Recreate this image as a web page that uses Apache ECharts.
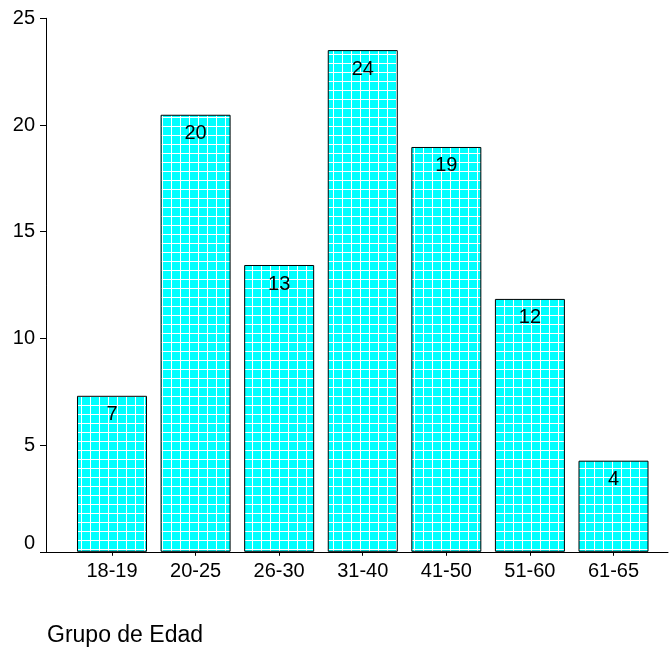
<!DOCTYPE html>
<html>
<head>
<meta charset="utf-8">
<script src="https://cdn.jsdelivr.net/npm/echarts@6/dist/echarts.min.js"></script>
<style>
html,body{margin:0;padding:0;background:#fff;}
#chart{width:669px;height:648px;}
</style>
</head>
<body>
<div id="chart"></div>
<script>
const categories = ['18-19', '20-25', '26-30', '31-40', '41-50', '51-60', '61-65'];
const values = [7.31, 20.48, 13.44, 23.51, 18.97, 11.85, 4.27];
const barLabels = [7, 20, 13, 24, 19, 12, 4];
const yTicks = [0, 5, 10, 15, 20, 25];
const xAxisTitle = 'Grupo de Edad';

const FONT = 'Liberation Sans, Arial, sans-serif';
const FS = 20;

// grid-pattern fill
const pc = document.createElement('canvas');
pc.width = 9; pc.height = 9;
const g = pc.getContext('2d');
g.fillStyle = '#00FFFF';
g.fillRect(0, 0, 9, 9);
g.fillStyle = '#ffffff';
g.fillRect(0, 0, 9, 1);
g.fillRect(0, 0, 1, 9);

const chart = echarts.init(document.getElementById('chart'), null, {renderer: 'canvas'});
chart.setOption({
  animation: false,
  backgroundColor: '#fff',
  title: {
    text: xAxisTitle,
    left: 42,
    top: 619,
    textStyle: {fontFamily: FONT, fontSize: 23, fontWeight: 'normal', color: '#000'}
  },
  grid: [
    {left: 70.2, right: 13.7, top: 18.3, bottom: 96.2, containLabel: false},
    {left: 41, right: 1, top: 18.3, bottom: 96.2, containLabel: false}
  ],
  xAxis: [
    {
      type: 'category',
      gridIndex: 0,
      data: categories,
      axisLine: {show: true, lineStyle: {color: '#000', width: 1}},
      axisTick: {show: true, alignWithLabel: true, length: 4, lineStyle: {color: '#000'}},
      axisLabel: {fontFamily: FONT, fontSize: FS, color: '#000', margin: 10},
      splitLine: {show: false}
    },
    {
      type: 'value',
      gridIndex: 1,
      min: 0, max: 1,
      axisLine: {show: true, lineStyle: {color: '#000', width: 1}},
      axisTick: {show: false},
      axisLabel: {show: false},
      splitLine: {show: false}
    }
  ],
  yAxis: [
    {
      type: 'value',
      gridIndex: 0,
      min: yTicks[0],
      max: yTicks[yTicks.length - 1],
      interval: 5,
      offset: 24.2,
      axisLine: {show: true, lineStyle: {color: '#000', width: 1}},
      axisTick: {show: true, length: 6, lineStyle: {color: '#000'}},
      axisLabel: {
        fontFamily: FONT, fontSize: FS, color: '#000', margin: 11,
        formatter: v => v === 0 ? '{z|0}' : String(v),
        rich: {z: {fontFamily: FONT, fontSize: FS, color: '#000', padding: [0, 0, 17, 0]}}
      },
      splitLine: {show: false}
    },
    {
      type: 'value',
      gridIndex: 1,
      min: 0, max: 1,
      show: false
    }
  ],
  series: [{
    type: 'bar',
    xAxisIndex: 0,
    yAxisIndex: 0,
    data: values,
    barWidth: 70,
    itemStyle: {
      color: {image: pc, repeat: 'repeat'},
      borderColor: '#000',
      borderWidth: 1
    },
    label: {
      show: true,
      position: 'insideTop',
      distance: 9,
      fontFamily: FONT,
      fontSize: FS,
      color: '#000',
      formatter: p => String(barLabels[p.dataIndex])
    }
  }]
});
</script>
</body>
</html>
